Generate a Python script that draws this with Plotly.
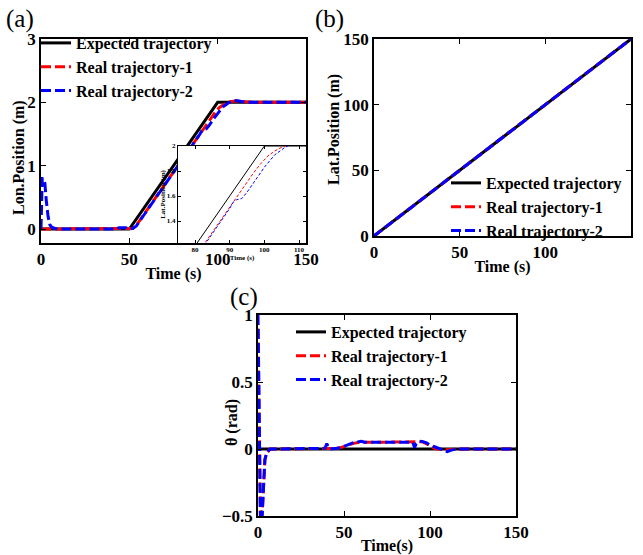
import plotly.graph_objects as go

W, H = 643, 555

# ---------------- data ----------------
# (a) longitudinal position
t_exp_a = [0, 50, 100, 150]
y_exp_a = [0, 0, 2, 2]

t_r1_a = [0, 10, 20, 30, 40, 48, 50, 52, 54, 56, 60, 70, 80, 85, 90, 92, 95, 97, 99, 101, 103, 105, 107, 110, 115, 120, 130, 140, 150]
y_r1_a = [0, 0, 0, 0, 0, 0, 0, 0.01, 0.06, 0.14, 0.31, 0.71, 1.11, 1.31, 1.51, 1.6, 1.71, 1.79, 1.86, 1.92, 1.96, 1.99, 2.01, 2.02, 2.01, 2.0, 2.0, 2.0, 2.0]

t_r2_a = [0, 0.3, 0.7, 1.5, 2.2, 3, 4, 5, 6, 8, 10, 20, 30, 40, 43, 44, 46, 48, 50, 52, 54, 56, 60, 70, 80, 85, 88, 90, 91, 92, 93.5, 95, 98, 100, 103, 106, 109, 112, 116, 120, 130, 140, 150]
y_r2_a = [0, 0.6, 0.8, 0.8, 0.72, 0.45, 0.2, 0.07, 0.03, 0.01, 0, 0, 0, 0, 0, 0.02, 0.02, 0.02, 0, 0.01, 0.05, 0.13, 0.29, 0.69, 1.09, 1.29, 1.41, 1.5, 1.55, 1.57, 1.58, 1.63, 1.75, 1.83, 1.93, 1.99, 2.03, 2.02, 2.0, 2.0, 2.0, 2.0, 2.0]

# (b) lateral position
t_b = [0, 25, 50, 75, 100, 125, 150]
y_exp_b = [0, 25, 50, 75, 100, 125, 150]
y_r1_b = [0, 25, 50, 75, 100, 125, 150]
y_r2_b = [0, 25, 50, 75, 100, 125, 150]

# (c) heading angle
t_exp_c = [0, 150]
y_exp_c = [0, 0]

t_r1_c = [0, 0.5, 1, 1.5, 2, 2.5, 3, 3.5, 4, 5, 6, 7, 8, 20, 40, 44, 46, 48, 50, 52, 55, 58, 60, 70, 80, 90, 93, 95, 97, 99, 101, 103, 105, 110, 120, 150]
y_r1_c = [0.9, 0.3, -0.4, -0.6, -0.6, -0.45, -0.25, -0.15, -0.08, -0.03, -0.01, 0, 0, 0, 0.005, 0, 0.005, 0.01, 0.02, 0.03, 0.04, 0.048, 0.05, 0.05, 0.05, 0.05, 0.052, 0.055, 0.045, 0.03, 0.012, 0.002, 0, -0.005, 0, 0]

t_r2_c = [0, 0.5, 1, 1.5, 2, 2.5, 3, 3.5, 4, 5, 6, 7, 8, 20, 39, 40, 41, 42, 44, 46, 48, 50, 52, 55, 58, 60, 62, 70, 80, 90, 91, 92, 94, 96, 98, 100, 103, 106, 108, 110, 112, 115, 120, 150]
y_r2_c = [1.0, 0.3, -0.4, -0.6, -0.6, -0.45, -0.25, -0.15, -0.08, -0.03, -0.01, 0, 0, 0, 0.005, 0.04, 0.01, 0, 0, 0.005, 0.01, 0.02, 0.035, 0.045, 0.052, 0.057, 0.05, 0.05, 0.05, 0.05, 0.01, 0.04, 0.058, 0.055, 0.045, 0.03, 0.015, 0.0, -0.01, -0.02, -0.01, 0, 0, 0]

# inset ticks
inset_xticks = [80, 90, 100, 110]
inset_yticks = [1.4, 1.6, 1.8, 2.0]
inset_yticktext = ["1.4", "1.6", "1.8", "2"]

# ---------------- styling ----------------
FONT = "Liberation Serif"
BLACK = "#000000"
RED = "#ff0000"
BLUE = "#0000ff"
DASH = "10px,4px"


def px_x(p):
    return p / W


def px_y(p):
    return 1 - p / H


fig = go.Figure()

names = ["Expected trajectory", "Real trajectory-1", "Real trajectory-2"]
colors = [BLACK, RED, BLUE]
dashes = ["solid", DASH, DASH]


def add_set(tlist, ylist, xa, ya, legend, width, showlegend=True, dash_override=None):
    for i, (t, y) in enumerate(zip(tlist, ylist)):
        d = dashes[i] if dash_override is None else dash_override[i]
        fig.add_trace(go.Scatter(
            x=t, y=y, mode="lines", name=names[i],
            line=dict(color=colors[i], width=width, dash=d),
            xaxis=xa, yaxis=ya, legend=legend, showlegend=showlegend,
            hoverinfo="skip"))


add_set([t_exp_a, t_r1_a, t_r2_a], [y_exp_a, y_r1_a, y_r2_a], "x", "y", "legend", 3)
add_set([t_b, t_b, t_b], [y_exp_b, y_r1_b, y_r2_b], "x2", "y2", "legend2", 3)
add_set([t_exp_c, t_r1_c, t_r2_c], [y_exp_c, y_r1_c, y_r2_c], "x3", "y3", "legend3", 3)
add_set([t_exp_a, t_r1_a, t_r2_a], [y_exp_a, y_r1_a, y_r2_a], "x4", "y4", "legend", 1,
        showlegend=False, dash_override=["solid", "3px,2px", "3px,2px"])

tickfont = dict(family=FONT, size=17, color=BLACK, weight="bold")
titlefont = dict(family=FONT, size=16, color=BLACK, weight="bold")


def ax(domain, rng, tickvals, title="", standoff=0, **kw):
    d = dict(domain=domain, range=rng, tickvals=tickvals, showgrid=False, zeroline=False,
             showline=True, linecolor=BLACK, linewidth=1.5, mirror="ticks",
             ticks="inside", ticklen=5, tickwidth=1, tickcolor=BLACK, automargin=False,
             tickfont=tickfont, title=dict(text=title, font=titlefont, standoff=standoff))
    d.update(kw)
    return d


small = dict(family=FONT, size=7, color=BLACK, weight="bold")

layout = dict(
    width=W, height=H, autosize=False,
    margin=dict(l=0, r=0, t=0, b=0),
    paper_bgcolor="white", plot_bgcolor="white",
    font=dict(family=FONT, color=BLACK),
    xaxis=ax([px_x(41), px_x(306)], [0, 150], [0, 50, 100, 150], "Time (s)", anchor="y"),
    yaxis=ax([px_y(243), px_y(39)], [-0.22, 3], [0, 1, 2, 3], anchor="x"),
    xaxis2=ax([px_x(374), px_x(631)], [0, 150], [0, 50, 100, 150], "Time (s)", anchor="y2"),
    yaxis2=ax([px_y(236), px_y(39)], [0, 150], [0, 50, 100, 150], anchor="x2"),
    xaxis3=ax([px_x(258), px_x(516)], [0, 150], [0, 50, 100, 150], "Time(s)", anchor="y3"),
    yaxis3=ax([px_y(516), px_y(315)], [-0.5, 1], [-0.5, 0, 0.5, 1], anchor="x3"),
    xaxis4=ax([px_x(178), px_x(306)], [75.1, 112], inset_xticks, "Time (s)", anchor="y4",
              ticklen=3, linewidth=1, standoff=0, tickfont=small),
    yaxis4=ax([px_y(243), px_y(146)], [1.224, 2.0], inset_yticks, "Lat.Position (m)", anchor="x4",
              ticklen=3, linewidth=1, standoff=0, ticktext=inset_yticktext, tickfont=small),
)
layout["xaxis4"]["title"]["font"] = small
layout["yaxis4"]["title"]["font"] = small

legfont = dict(family=FONT, size=16, color=BLACK, weight="bold")


def leg(x, y):
    return dict(x=px_x(x), y=px_y(y), xanchor="left", yanchor="top", xref="paper", yref="paper",
                bgcolor="rgba(255,255,255,0)", borderwidth=0, font=legfont,
                itemwidth=30, tracegroupgap=0, traceorder="normal")


layout["legend"] = leg(36, 26)
layout["legend2"] = leg(446, 166)
layout["legend3"] = leg(291, 315)

ann = []
for txt, cx, cy in [("(a)", 20, 19), ("(b)", 329, 19), ("(c)", 244, 297)]:
    ann.append(dict(text=txt, x=px_x(cx), y=px_y(cy), xref="paper", yref="paper",
                    showarrow=False, xanchor="center", yanchor="middle",
                    font=dict(family=FONT, size=25, color=BLACK)))
# y-axis titles
for txt, cx, cy in [("Lon.Position (m)", 19, 158), ("Lat.Position (m)", 334, 130), ("θ (rad)", 232, 423)]:
    ann.append(dict(text=txt, x=px_x(cx), y=px_y(cy), xref="paper", yref="paper",
                    showarrow=False, xanchor="center", yanchor="middle", textangle=-90,
                    font=titlefont))
layout["annotations"] = ann

fig.update_layout(**layout)
fig.write_html("out.html", config={"displayModeBar": False},
               post_script="document.body.style.margin='0px';")
